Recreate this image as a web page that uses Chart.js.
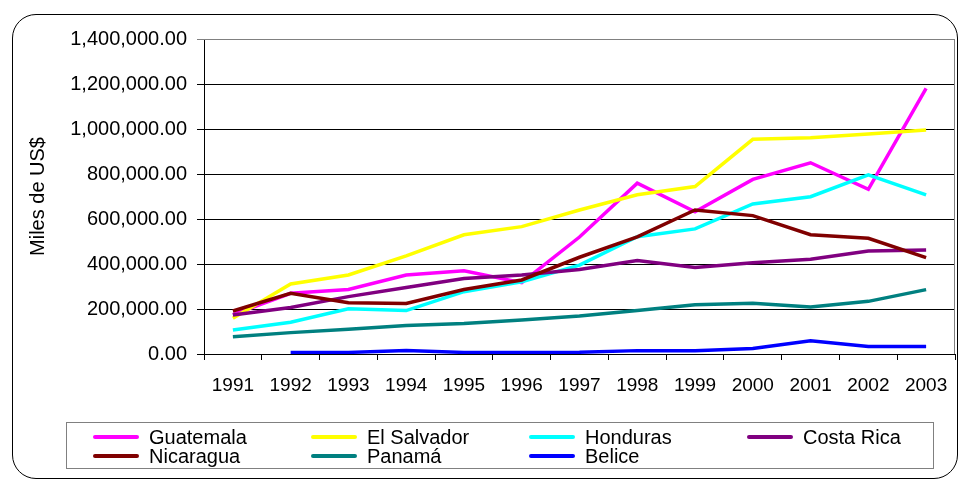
<!DOCTYPE html>
<html>
<head>
<meta charset="utf-8">
<script src="https://cdn.jsdelivr.net/npm/chart.js@4"></script>
<style>
  body { margin: 0; background: #fff; width: 963px; height: 480px; overflow: hidden; position: relative; font-family: "Liberation Sans", Arial, sans-serif; }
  #frame { position: absolute; left: 12px; top: 14px; width: 944px; height: 463px; border: 1.5px solid #000; border-radius: 24px; }
  #chart { position: absolute; left: 0; top: 0; }
  #legend { position: absolute; left: 66px; top: 422px; width: 868px; height: 47px; border: 1px solid #808080; box-sizing: border-box; }
  .item { position: absolute; height: 20px; font-size: 20px; line-height: 20px; color: #000; white-space: nowrap; }
  .item span.mark { position: absolute; left: 0; top: 8px; width: 46px; height: 4px; border-radius: 2px; }
  .item span.txt { position: absolute; left: 56px; top: 0; }
</style>
</head>
<body>
<div id="frame"></div>
<canvas id="chart" width="963" height="480"></canvas>
<div id="legend"></div>
<script>
var years = ["1991", "1992", "1993", "1994", "1995", "1996", "1997", "1998", "1999", "2000", "2001", "2002", "2003"];
var names = ["Guatemala", "El Salvador", "Honduras", "Costa Rica", "Nicaragua", "Panamá", "Belice"];
var colors = ["#FF00FF", "#FFFF00", "#00FFFF", "#800080", "#800000", "#008080", "#0000FF"];

var guatemala = [175000, 270000, 287000, 351000, 370000, 317000, 520000, 759000, 632000, 776000, 850000, 732000, 1181000];
var elSalvador = [159000, 311000, 351000, 436000, 530000, 566000, 640000, 708000, 744000, 954000, 961000, 978000, 996000];
var honduras = [107000, 141000, 201000, 193000, 277000, 321000, 395000, 521000, 556000, 667000, 699000, 796000, 707000];
var costaRica = [173000, 207000, 255000, 296000, 336000, 351000, 376000, 415000, 385000, 406000, 421000, 458000, 462000];
var nicaragua = [191000, 270000, 228000, 225000, 287000, 329000, 430000, 521000, 640000, 615000, 530000, 514000, 428000];
var panama = [77000, 95000, 110000, 127000, 136000, 151000, 169000, 193000, 219000, 225000, 209000, 234000, 286000];
var belice = [null, 7000, 7000, 16000, 7000, 7000, 8000, 15000, 15000, 24000, 59000, 33000, 33000];

var series = [guatemala, elSalvador, honduras, costaRica, nicaragua, panama, belice];

var yTicks = [0, 200000, 400000, 600000, 800000, 1000000, 1200000, 1400000];

var datasets = series.map(function(values, i) {
    return {
        label: names[i],
        data: values,
        borderColor: colors[i],
        backgroundColor: colors[i],
        borderWidth: 3.5,
        pointRadius: 0,
        tension: 0,
        fill: false,
        order: series.length - i
    };
});

// gray outline round the plot area (top and right sides show)
var plotFrame = {
    id: "plotFrame",
    afterDraw: function(chart) {
        var a = chart.chartArea, ctx = chart.ctx;
        ctx.save();
        ctx.strokeStyle = "#808080";
        ctx.lineWidth = 1;
        ctx.beginPath();
        ctx.moveTo(a.left, a.top + 0.5);
        ctx.lineTo(a.right - 0.5, a.top + 0.5);
        ctx.lineTo(a.right - 0.5, a.bottom);
        ctx.stroke();
        ctx.restore();
    }
};

var chart = new Chart(document.getElementById("chart"), {
    type: "line",
    data: { labels: years, datasets: datasets },
    options: {
        responsive: false,
        animation: false,
        layout: { padding: { top: 39, right: 8, bottom: 0, left: 0 } },
        plugins: { legend: { display: false }, tooltip: { enabled: false } },
        scales: {
            x: {
                offset: true,
                afterFit: function(s) { s.height = 126; },
                grid: { offset: true, drawOnChartArea: false, drawTicks: true, tickLength: 6, color: "#000" },
                border: { color: "#000" },
                ticks: { color: "#000", padding: 14, maxRotation: 0, autoSkip: false, font: { family: "Liberation Sans", size: 19 } }
            },
            y: {
                min: 0,
                max: 1400000,
                afterFit: function(s) { s.width = 204; },
                afterBuildTicks: function(s) { s.ticks = yTicks.map(function(v) { return { value: v }; }); },
                grid: {
                    color: function(c) { return c.tick && c.tick.value === 1400000 ? "#808080" : "#000"; },
                    lineWidth: 1,
                    tickLength: 7
                },
                border: { color: "#000" },
                title: {
                    display: true,
                    text: "Miles de US$",
                    color: "#000",
                    padding: { top: 26, bottom: 0 },
                    font: { family: "Liberation Sans", size: 20 }
                },
                ticks: {
                    color: "#000",
                    padding: 10,
                    font: { family: "Liberation Sans", size: 20 },
                    callback: function(v) {
                        return Number(v).toLocaleString("en-US", { minimumFractionDigits: 2, maximumFractionDigits: 2 });
                    }
                }
            }
        }
    },
    plugins: [plotFrame]
});

// legend in a boxed 4-column grid
var legend = document.getElementById("legend");
names.forEach(function(name, i) {
    var el = document.createElement("div");
    el.className = "item";
    el.style.left = (26 + (i % 4) * 218) + "px";
    el.style.top = (4 + Math.floor(i / 4) * 19) + "px";
    el.innerHTML = '<span class="mark" style="background:' + colors[i] + '"></span><span class="txt">' + name + '</span>';
    legend.appendChild(el);
});
</script>
</body>
</html>
